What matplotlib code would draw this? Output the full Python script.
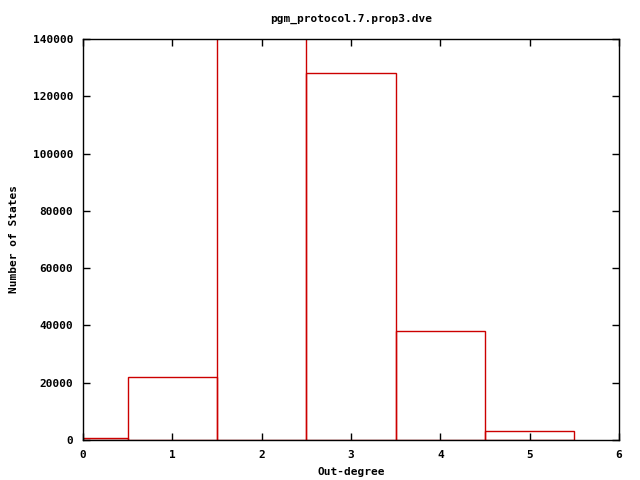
import matplotlib
matplotlib.use("Agg")
import matplotlib.pyplot as plt

# out-degree histogram
degrees = [0, 1, 2, 3, 4, 5]
counts = [700, 22000, 165000, 128000, 38000, 3200]

plt.rcParams['font.family'] = 'DejaVu Sans Mono'
plt.rcParams['font.weight'] = 'bold'
plt.rcParams['font.size'] = 8

fig = plt.figure(figsize=(6.4, 4.8), dpi=100)
ax = fig.add_axes([0.1297, 0.0833, 0.8375, 0.8354])

ax.bar(degrees, counts, width=1.0, fill=False, edgecolor='#cc0000', linewidth=1)

ax.set_xlim(0, 6)
ax.set_ylim(0, 140000)
ax.set_xticks(range(0, 7))
ax.set_yticks(range(0, 140001, 20000))
ax.tick_params(direction='in', top=True, right=True, length=5, width=1)
ax.tick_params(axis='x', pad=7)
ax.tick_params(axis='y', pad=7)
for s in ax.spines.values():
    s.set_linewidth(1)
    s.set_zorder(3)

fig.text(351 / 640, 1 - 19 / 480, "pgm_protocol.7.prop3.dve", ha='center', va='center')
fig.text(351 / 640, 1 - 472 / 480, "Out-degree", ha='center', va='center')
fig.text(14 / 640, 1 - 239 / 480, "Number of States", ha='center', va='center', rotation=90)

fig.savefig("out.png", dpi=100)
